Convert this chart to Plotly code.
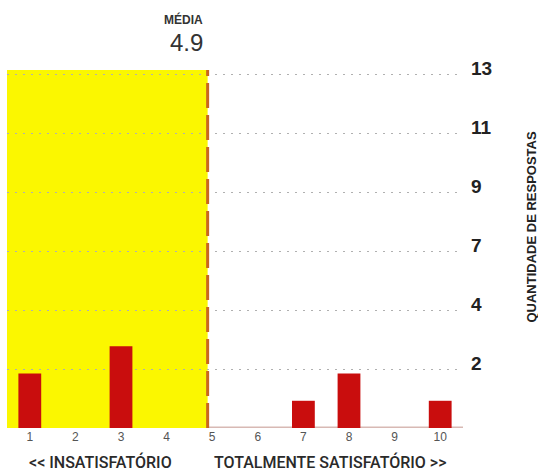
import plotly.graph_objects as go

categories = [1, 2, 3, 4, 5, 6, 7, 8, 9, 10]
responses = [2, 0, 3, 0, 0, 0, 1, 2, 0, 1]
mean_value = 4.9
y_max = 13
tick_text = ["2", "4", "7", "9", "11", "13"]
tick_vals = [y_max / 6 * (i + 1) for i in range(6)]

fig = go.Figure()
fig.add_trace(go.Bar(
    x=categories, y=responses, width=0.5,
    marker=dict(color="#c90d0d", line=dict(width=0)),
    showlegend=False,
))

# yellow "unsatisfactory" zone up to the mean
fig.add_shape(type="rect", xref="x", yref="y", x0=0.5, x1=mean_value, y0=0, y1=13.15,
              fillcolor="#fbf700", line=dict(width=0), layer="below")
# faint baseline
fig.add_shape(type="line", xref="x", yref="y", x0=mean_value, x1=10.5, y0=0.03, y1=0.03,
              line=dict(color="#d8b9b4", width=1.5), layer="below")
# mean dashed line
fig.add_shape(type="line", xref="x", yref="y", x0=mean_value, x1=mean_value, y0=0, y1=13.15,
              line=dict(color="#c9661f", width=3, dash="25px,7px"))

fig.add_annotation(text="<b>MÉDIA</b>", xref="paper", yref="paper", x=0.388, y=1.0,
                   xanchor="center", yanchor="middle", yshift=51, showarrow=False,
                   font=dict(size=12, color="#333", family="Liberation Sans"))
fig.add_annotation(text=str(mean_value), xref="paper", yref="paper", x=0.394, y=1.0,
                   xanchor="center", yanchor="middle", yshift=28, showarrow=False,
                   font=dict(size=24, color="#333", family="Liberation Sans"))
fig.add_annotation(text="<b>QUANTIDADE DE RESPOSTAS</b>", xref="paper", yref="paper",
                   x=1.0, xshift=69, y=0.56, xanchor="center", yanchor="middle",
                   textangle=-90, showarrow=False,
                   font=dict(size=13, color="#222", family="Liberation Sans"))
fig.add_annotation(text="&lt;&lt; INSATISFATÓRIO", xref="paper", yref="paper", x=0.205, y=0,
                   xanchor="center", yanchor="middle", yshift=-34, showarrow=False,
                   font=dict(size=16, color="#2a2a2a", family="Roboto", weight=500))
fig.add_annotation(text="TOTALMENTE SATISFATÓRIO &gt;&gt;", xref="paper", yref="paper", x=0.708, y=0,
                   xanchor="center", yanchor="middle", yshift=-34, showarrow=False,
                   font=dict(size=16, color="#2a2a2a", family="Roboto", weight=500))

fig.update_layout(
    width=538, height=473,
    margin=dict(l=7, r=75, t=70, b=45),
    paper_bgcolor="white", plot_bgcolor="white",
    bargap=0.5,
    xaxis=dict(range=[0.5, 10.5], tickvals=categories, ticktext=[str(c) for c in categories],
               showgrid=False, zeroline=False, showline=False, ticks="", automargin=False,
               tickfont=dict(size=12, color="#555", family="Liberation Sans")),
    yaxis=dict(range=[0, 13.15], side="right", tickvals=tick_vals, ticktext=tick_text,
               showgrid=True, gridcolor="#b0b0b0", griddash="2px,6px", gridwidth=1,
               zeroline=False, showline=False, ticks="", automargin=False,
               ticklabelshift=-6, ticklabelstandoff=7,
               tickfont=dict(size=19, color="#222", family="Liberation Sans", weight="bold")),
)

fig.write_html("out.html", config={"displayModeBar": False},
               post_script="document.body.style.margin='0';")
